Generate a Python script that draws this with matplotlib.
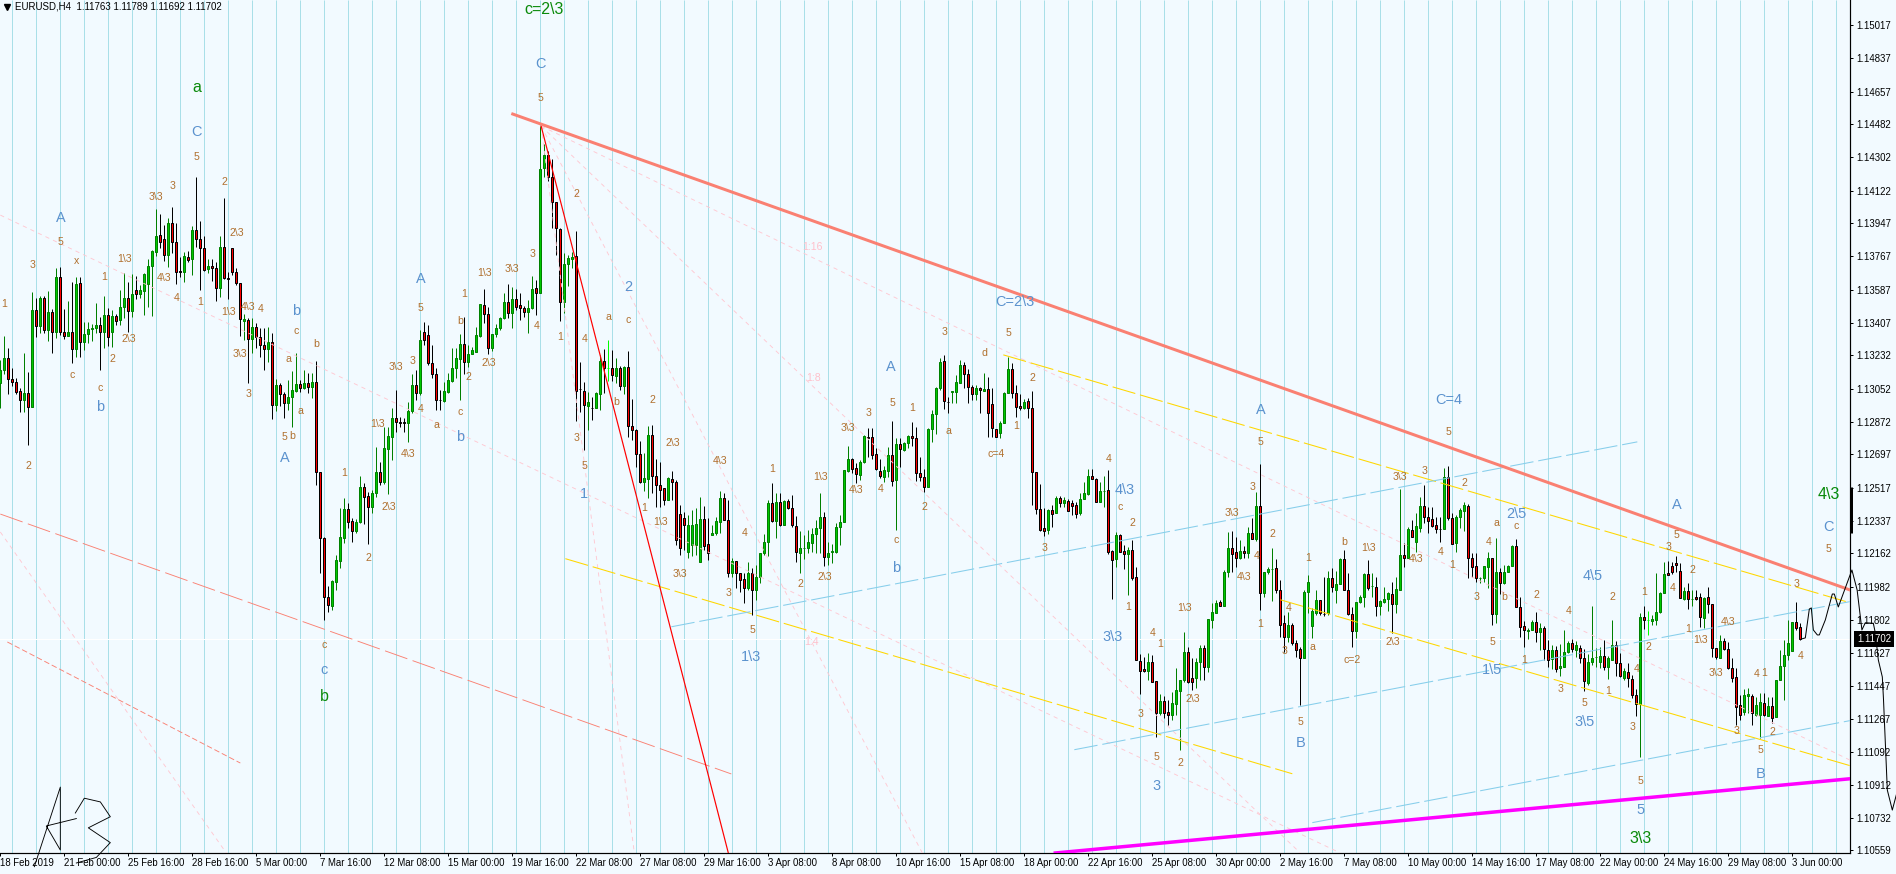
import numpy as np
import matplotlib
matplotlib.use('Agg')
import matplotlib.pyplot as plt
from matplotlib.transforms import blended_transform_factory

plt.rcParams['font.family'] = ['Liberation Sans', 'DejaVu Sans']
plt.rcParams['lines.scale_dashes'] = False
plt.rcParams['path.snap'] = True

# EURUSD H4 candles, in pips above 1.10000
highs = [
320.7,333.7,327.2,316.4,311.0,305.6,324.5,314.2,357.5,354.2,
355.3,355.3,358,348.3,370.4,371,348.3,352.6,362.9,365.6,
365.6,341.3,341.3,340.2,351.5,344,355.3,348.8,347.7,345.6,
358.5,367.7,362.9,367.2,366.1,361.2,367.7,375.3,380.1,402.3,
399.6,393.7,397.4,403.4,394.7,376.4,379.1,379.6,393.1,419.6,
395.8,387.7,375.3,375.3,373.7,387.7,408.2,368.3,381.2,370.4,
362.3,345.6,343.4,343.4,340.7,338,338,338.6,335.3,310.5,
308.3,303.4,309.9,314.8,324.5,309.9,315.3,313.7,313.7,320.2,
260.2,225.1,198.6,201.9,215.4,240.8,246.2,243.5,235.4,234.8,
258,254.3,249.4,250.5,273.7,265.6,284.5,284.5,294.8,304.5,
289.9,289.4,298,313.2,315.3,337,341.3,339.6,328.8,316.4,
304.5,308.9,313.7,327.2,327.2,334.8,344,328.8,327.8,338.6,
351,359.1,349.4,334.8,340.2,344,356.9,361.8,360.2,359.1,
356.9,349.9,353.1,366.1,364,447.1,437.4,433.6,429.3,406.1,
392,378.5,377.4,379.1,390.4,319.6,308.9,303.4,300.7,303.4,
323.4,326.7,331.5,326.1,321.8,317.5,317.5,325.6,299.7,283.5,
277,270.5,285.1,285.6,267.2,265.6,251.6,257.5,260.8,255.9,
242.4,238.6,237,239.7,240.8,246.7,241.9,235.4,231.6,235.9,
250,248.9,245.1,213.8,212.2,205.7,205.7,211.6,208.4,210,
216.5,226.7,245.1,254.3,248.9,248.9,245.1,245.6,247.8,236.5,
228.4,226.2,228.9,230,234.3,248.9,238.6,222.4,221.3,232.7,
237,261.3,274.3,267.8,265.1,266.7,280.2,284,284,273.2,
267.2,263.5,273.7,287.8,278.6,278.6,276.4,280.2,287.2,284.5,
268.3,261.8,284,293.7,306.2,321.8,323.4,300.7,304,312.6,
320.7,319.6,315.9,307.2,307.2,306.2,313.7,311.5,305.6,283.5,
287.8,303.4,322.3,319.1,307.2,302.4,299.7,300.2,304,260.2,
253.7,240.8,240.2,242.4,247.3,247.3,246.7,245.6,245.1,244,
248.9,254.8,261.8,261.8,257,254.8,258,261.3,218.1,227.8,
226.7,220.8,219.7,223.5,209,162,160.3,162.4,161.4,147.3,
140.3,139.2,137.1,141.4,154.3,147.9,173.8,165.7,159.7,159.7,
166.8,166.8,180.8,189.5,191.1,191.1,207.3,227.8,228.4,225.1,
223.5,220.3,230.5,235.4,249.4,264.5,206.2,208.9,219.2,213.2,
201.9,183,184.6,178.7,169.5,165.7,196.5,204.6,186.8,196.5,
191.1,203.5,206.8,208.4,206.8,213.8,218.1,205.7,187.3,190,
193.8,205.7,212.7,205.7,203.5,191.1,198.1,195.4,200.8,203.5,
251,221.9,230.5,234.3,238,246.7,253.2,241.3,241.3,235.9,
235.9,262.4,263.5,238,237,240.8,244,242.9,216.5,216.5,
203.5,209.4,217,213.8,224.6,208.4,210,210,220.8,224,
192.7,179.7,176,180.3,184.6,178.7,177,169.5,166.8,166.2,
167.3,174.9,168.9,170,168.9,166.8,164.6,161.9,187.8,165.1,
165.7,169.5,160.8,180.3,168.9,162.4,154.3,157,150.6,143,
184,187.8,185.1,183,205.7,195.4,211.6,212.1,211.6,214.8,
211.1,198.1,200.3,196.5,196.5,194.9,192.7,198.1,188.9,165.1,
172.2,170.6,168.4,159.7,154.3,139.8,143,143.6,140.3,138.7,
140.8,140.8,138.7,138.7,147.9,164.1,169.5,180.3,179.2,190,178.9]

lows = [
294.8,313.2,302.4,306.7,302.4,292.6,292.6,274.8,295.3,333.2,
335.3,335.3,331,324.5,332.6,334.2,332.1,333.7,319.1,322.3,
322.3,326.1,329.9,331,335.3,315.3,327.2,328.3,327.8,339.6,
339.6,343.4,335.9,344,353.7,354.2,345,349.4,344.5,376.9,
381.2,374.2,371,378.5,361.8,365.6,362.9,373.7,366.6,381.8,
358.5,368.8,367.7,363.4,352.6,354.8,364.5,353.7,366.6,361.2,
333.7,331.5,308.3,324.5,327.2,322.3,315.3,319.6,288.9,293.2,
295.9,289.4,293.7,284.5,303.4,303.4,305.1,302.9,300.2,253.2,
205.7,180.3,184.6,185.7,196.5,208.4,221.9,230,222.4,227.3,
232.7,232.1,221.3,238.1,246.7,253.2,253.7,248.4,266.7,281.8,
284.5,281.8,276.4,292.1,299.1,301.8,328.8,318,311,293.7,
293.7,298,302.9,308.9,311,299.1,313.2,317,324,325,
333.1,340.7,324,325.6,333.1,336.9,342.9,343.4,338,347.7,
342.3,344,335.3,348.3,345,356.9,419.6,417.4,392,377.4,
341.8,346.1,360.7,370.4,287.8,292.6,272.1,282.9,288.3,294.8,
293.7,302.9,309.4,309.4,308.3,304.5,302.4,279.1,277.5,262.9,
254.3,250,246.2,248.9,241.3,241.3,242.4,245.1,245.1,220.8,
215.4,218.1,213.8,214.8,215.4,211.6,218.1,212.7,226.2,226.2,
227.3,234.3,203.5,203.5,197.6,195.4,189.5,196.5,183,191.1,
200.3,215.4,214.8,233.2,224.6,231,231.6,240.2,230.5,211.6,
205.7,213.2,216.5,217,216.5,216.5,209.4,210,211.1,216.5,
220.8,233.2,260.2,259.7,254.3,255.9,265.1,268.3,267.2,261.3,
257,254.8,257.5,252.7,228.9,262.9,271.6,273.2,274.3,255.4,
255.4,249.4,252.1,276.4,280.8,304.5,294.3,292.1,297.5,297.5,
308.3,305.6,297.5,299.1,299.1,292.1,304,279.1,279.1,279.1,
278.6,286.7,302.9,300.2,289.9,293.7,294.3,289.4,242.4,237.5,
228.4,225.6,226.7,230.5,238.1,241.3,241.3,239.2,237,235.4,
237,245.6,247.8,256.4,244,244,241.3,215.9,191.6,208.9,
217,207.8,193.8,201.9,158.7,140.3,152.2,147.9,146.8,117.1,
129,127.3,123.6,126.3,129,110,146.8,146.2,142.5,143.6,
147.9,147.9,152.2,176,184,187.8,187.8,203.5,206.2,208.9,
213.2,213.8,213.8,224,222.9,185.7,192.7,205.1,190.5,194.9,
171.1,163,168.4,166.8,160.3,134.4,159.7,184.1,170.5,183,
183,182.4,183,195.4,189.5,199.7,196.5,183,165.7,170.5,
189.5,187.3,196.5,192.7,182.4,183,189.5,185.1,173.2,184.1,
196.5,208.9,213.8,225.1,217,227.8,232.7,227.3,230.5,227.3,
222.4,229.4,234.3,221.3,217,230,228.4,202.9,203.5,200.8,
200.3,200.8,197.6,177.6,178.7,194.3,199.7,206.2,209.4,187.3,
171.1,165.7,170,174.9,168.4,164.1,158.7,154.9,153.8,152.2,
150,154.9,162.4,163,160.3,157,141.9,145.2,156,154.9,
154.3,153.3,148.4,158.7,150,149.5,147.9,144.1,138.1,128.4,
106.3,175.4,172.2,177.6,177.6,184.1,194.9,205.1,205.1,206.2,
192.2,191.1,186.2,187.8,191.1,176.5,176,184.1,160.3,159.2,
159.7,164.1,153.8,146.8,123.6,126.3,129,130,123.6,128.4,
116.5,128.4,128.4,124.6,127.9,147.9,137.1,158.7,163.5,174.9,169.2]

opens = [
308.3,315.3,321.8,310.5,308.8,304,299.1,302.9,295.3,347.7,
339.1,354.2,336.9,346.7,335.9,365.6,335.9,333.7,335.9,326.7,
362.3,330.5,334.8,337.5,338,339.6,335.9,345,335.9,344.5,
342.3,349.4,354.2,347.2,358.5,356.4,358,361.8,371.5,379.1,
388.3,386.1,377.4,394.7,384.5,368.6,368.3,376.4,375.3,391,
386.1,381.2,369.9,371.5,370.4,359.6,381.8,365,381.2,368.3,
362.3,341.8,342.3,332.1,338.6,333.2,328.8,326.7,330.5,296.4,
307.2,302.4,297.5,300.7,304,307.8,305.6,308.3,306.1,308.9,
260.2,224.6,192.7,187.8,200.8,212.1,224.6,240.2,233.8,228.4,
233.2,252.1,247.3,241.3,248.9,260.2,254.8,272.6,279.1,289.4,
287.2,287,286.7,293.2,307.2,302.9,335.9,334.2,319.1,313.2,
299.1,298.6,303.4,309.4,316.4,321.3,329.4,319.6,324,325,
333.7,350.4,345.6,327.2,334.8,338,343.4,352,346.1,353.7,
350.4,348.8,346.7,348.8,359.6,356.9,424.4,431.5,419.6,406.1,
391.5,352,372.6,375.3,376.9,305.1,304,295.9,294.9,294.8,
302.4,320.2,316.4,316.4,312.1,316.4,306.7,317,285.1,282.9,
270,254.8,256.4,280.2,258,253.2,251.6,245.1,256.4,254.8,
237.5,235.4,217,220.8,220.8,211.6,234.8,221.3,226.2,227.3,
233.2,246.2,234.3,205.7,212.2,205.7,202.4,197.6,205.7,196.5,
203.5,216.5,222.4,243.5,233.8,244,231.6,244.6,240.8,231,
216.5,219.2,219.2,221.9,226.7,230,235.9,214.3,217,217,
230.5,233.2,260.8,267.2,262.4,258.6,265.6,279.1,279.1,269.9,
260.8,257.5,260.8,269.4,255.9,275.3,272.1,275.9,279.7,278.6,
259.7,257.5,252.1,283.5,291.5,305.6,320.2,298,303.4,303.4,
308.3,318,313.2,306.1,302.4,305.6,304,305.1,297,283.5,
281.3,286.7,302.9,315.9,302.9,295.9,294.8,298.6,294.8,260.2,
240.2,230,228.9,239.7,238.1,246.2,243.5,244.6,243.5,242.4,
238.1,245.6,248.4,258,256.4,244,250,250.5,217.5,213.2,
226.2,217.5,215.9,218.1,203.5,158.1,153.8,152.7,157.6,147.3,
130,136.5,130.5,128.9,134.9,141.9,147.9,163,148.9,148.9,
157.6,165.1,154.9,180.3,184,190,187.8,206.2,219.2,217,
213.8,217.5,216.5,227.3,224,241.9,194.9,206.2,207.8,208.4,
196.5,178.7,171.1,177.6,167.8,164.6,159.7,195.4,177,184.1,
191.1,183.6,184.1,203,196.5,199.7,213.2,196.5,183.5,174.3,
190,192.7,205.1,198.6,198.1,187.8,190,191.6,194.3,188.9,
196.5,215.4,213.8,228.9,222.4,230,241.9,235.9,234.8,231.6,
229.4,229.4,257.5,235.4,221.9,235.9,239.2,241.9,213.8,209.4,
203,203,208.9,213.8,183.5,206.2,200.3,206.2,209.4,220.3,
187.3,177,174.3,174.9,179.2,173.8,176,164.1,159.2,164.1,
154.3,154.9,163,167.8,164.1,165.1,159.7,146.2,157.6,160.3,
157.6,160.8,154.9,158.7,166.8,157,149,152.2,148.4,139.8,
134.9,181.9,180.3,179.7,180.3,184.6,194.9,205.7,209.4,211.1,
206.7,191.6,195.9,191.6,192.7,192.7,181.3,192.7,188.9,165.1,
159.7,168.9,164.6,154.3,149.5,134.4,130.6,139.2,139.2,129,
129,135.4,128.4,133.8,127.9,147.9,155.4,161.4,163.5,179.2,176.3]

closes = [
315.3,321.8,310.5,308.8,303.4,299.1,302.9,295.3,347.7,339.1,
354.2,336.9,346.7,335.9,365.6,335.9,333.7,335.9,326.7,361.8,
330.5,334.8,337.5,338,339.6,335.9,345,333.2,344.5,341.8,
349.4,354.2,347.2,356.4,356.4,358.5,367.2,371.5,379.6,387.7,
384.5,377.4,394.7,384.5,368.3,368.5,377,374.7,391,386.1,
381.2,369.3,371.5,370.4,359.6,381.8,365,364.5,368.3,362.3,
342.9,342.9,332.1,338.6,333.2,328.8,326.7,330.5,296.4,307.2,
302.4,297.5,300.7,304.5,307.8,305.6,308.3,306.1,308.9,260.2,
224.6,192.7,188.4,201.3,212.7,225.1,240.2,233.2,228.4,233.2,
252.1,246.7,241.3,248.9,260.2,254.8,273.2,279.7,289.4,287.2,
286.9,286.6,293.2,307.2,302.9,331.5,331.5,319.1,313.2,299.1,
299,304,309.9,316.4,321.8,329.4,319.6,324,326.1,334.2,
351,345.6,327.2,334.8,338,343.4,352,346.1,353.7,349.4,
348.8,346.7,348.8,359.1,356.9,423.9,431.5,419.6,406.1,392,
352,372.6,375.8,376.4,304,304.8,296.4,298,294.8,302.9,
320.2,316.4,316.5,312.6,316.4,306.7,317,285.1,282.9,270,
254.8,257,280.2,258,253.2,250.5,245.1,257,254.8,223.5,
219.2,231.6,231.6,231.6,232.1,234.8,220.3,216.5,227.3,233.8,
246.2,234.3,205.7,212.2,205.7,201.9,197.6,205.7,196.5,203.5,
216.5,222.4,243.5,233.8,244,231.6,244.6,240.8,231.6,217,
219.2,219.4,222.4,226.7,230,235.9,214.3,216.5,217.5,230.5,
233.2,261.3,267.2,261.8,259.1,265.6,279.7,278.6,269.4,261.8,
258,261.3,269.4,255.4,275.3,272.6,275.9,279.7,278.6,259.7,
257.5,252.1,283.5,291.5,305.6,319.6,298.6,297.9,304,308.9,
318,313.2,306.1,302.4,305.6,304.5,305.1,292.1,284,279.1,
286.7,302.9,315.9,302.9,295.3,294.8,298,294.8,260.2,240.2,
228.9,228.4,239.7,237.5,246.2,243.5,245.1,239.2,241.9,237.5,
245.6,248.9,258,256.4,244,250,250.1,217,212.7,226.2,
217,215.9,218.1,203,158.7,152.7,152.7,157.6,146.8,130,
136.5,130,128.9,135.4,142.5,147.9,163,146.8,146.8,157.6,
165.1,154.9,180.8,184.6,189.5,187.8,206.2,219.2,215.9,213.8,
217.5,216.5,227.3,224,241.9,194.9,206.2,207.8,207.9,196.5,
177.6,171.1,177.6,167.8,164.1,159.7,195.4,200.8,185.1,191.1,
184.1,183.5,203,198.1,199.7,213.2,196.5,183.5,174.3,190,
192.7,205.1,197.6,198.7,187.8,190.5,191.6,194.9,188.9,197,
215.4,213.8,229.4,225.1,231,241.9,235.9,233.8,231,229.4,
229.3,257.5,235.4,221.3,235.9,239.7,242.4,213.8,208.9,203,
203.1,209.4,213.8,183.5,206.2,200.3,206.2,209.4,220.3,187.3,
176.5,174.9,174.9,179.2,173.8,176,164.6,158.7,164.1,153.8,
155.4,163,167.8,164.6,166.8,159.7,147.3,157.6,159.7,160.4,
160.8,154.9,159.7,166.8,157,150,152.7,149,139.8,134.9,
181.9,180.3,180.4,180.8,184.6,194.9,205.1,204.6,206.2,210,
192.2,195.9,191.6,191.7,191.6,181.9,192.2,188.9,165.1,160.3,
168.9,164.6,154.3,149,133.3,129,139.8,140.3,130,134.4,
136,129,133.8,127.3,147.9,155.4,161.4,167.8,179.2,176,170.2]

lime_bars = [152, 412]

y_ticks = [1.15017,1.14837,1.14657,1.14482,1.14302,1.14122,1.13947,1.13767,1.13587,
           1.13407,1.13232,1.13052,1.12872,1.12697,1.12517,1.12337,1.12162,1.11982,
           1.11802,1.11627,1.11447,1.11267,1.11092,1.10912,1.10732,1.10559]
x_labels = ['18 Feb 2019','21 Feb 00:00','25 Feb 16:00','28 Feb 16:00','5 Mar 00:00','7 Mar 16:00',
            '12 Mar 08:00','15 Mar 00:00','19 Mar 16:00','22 Mar 08:00','27 Mar 08:00','29 Mar 16:00',
            '3 Apr 08:00','8 Apr 08:00','10 Apr 16:00','15 Apr 08:00','18 Apr 00:00','22 Apr 16:00',
            '25 Apr 08:00','30 Apr 00:00','2 May 16:00','7 May 08:00','10 May 00:00','14 May 16:00',
            '17 May 08:00','22 May 00:00','24 May 16:00','29 May 08:00','3 Jun 00:00']
last_price = 1.11702
title_text = 'EURUSD,H4  1.11763 1.11789 1.11692 1.11702'

# trend lines: (bar, pips) end points
salmon_thick = [(128.1,453.6),(462.4,196.5)]
red_line = [(135.2,447.1),(182,54.4)]
fan_lines = [[(135.2,447.1),(462.4,104.6)],[(135.2,447.1),(325,54.4)],
             [(135.2,447.1),(230.5,54.4)],[(135.2,447.1),(158.5,54.4)],
             [(0,399),(335,54.4)],[(0,227.8),(56.5,54.4)]]
salmon_dashed = [(0,237.5),(182.75,97.1)]
salmon_dotted = [(1.75,168.4),(60,103)]
yellow_lines = [[(250.75,323.5),(462.4,189.6)],[(141.25,213.4),(323,97.2)],[(320,191.2),(462.4,101.6)]]
sky_lines = [[(167.75,176.6),(409.25,276.5)],[(268.5,110.2),(462.4,190.2)],[(328,70.8),(462.4,125.9)]]
magenta_line = [(263.75,54.4),(462.4,94.5)]
forecast = [(450.25,170),(451.25,170.6),(452.25,186.2),(452.75,186.8),(453.25,174.9),(454.25,172.2),
            (454.75,172.2),(456.25,180.3),(458,194.3),(458.5,194.3),(459.5,187.3),(462.9,207.3),
            (464.2,196.5),(465.4,174.9),(466.25,178.8),(468.25,178.5),(468.75,173.3),(469.5,158.7),
            (470.5,149.5),(470.8,137.1),(471.75,88.4),(473,77.6),(474,85.8)]
thick_bar = [(462.6,252.1),(462.6,227.3)]
signature = [[(8.5,47),(15,90),(15,56),(11.5,69),(19,73)],
             [(18.75,76),(21,84),(25,82),(27.5,74),(22,68),(27.5,60),(24,52),(19,49)]]

small_labels = [('5',49,430.4),('3',43,414.7),(r'3\3',39,408.8),('2',56,416.9),(r'2\3',59,389.3),('3',8,372.1),
('5',15,384.5),('x',19,374.2),(r'1\3',31,375.3),('1',26,365.6),(r'4\3',41,365),('4',44,354.2),('1',50,352),
(r'1\3',57,346.7),(r'4\3',62,349.4),('4',65,348.3),('1',1,351),(r'2\3',32,332.1),('2',28,321.3),(r'3\3',60,324),
('c',74,336.4),('b',79,329.4),('a',72,321.3),('c',18,312.6),('c',25,305.6),('2',7,263.4),('3',62,302.4),
('a',75,293.2),('5',71,279.1),('b',73,279.7),('1',86,259.7),('2',92,213.8),(r'2\3',97,241.3),(r'1\3',94.25,286.2),
(r'3\3',99,317),('3',103,320.2),('4',105,294.3),(r'4\3',102,270),('a',109,285.6),('5',135,462.3),('2',144,410.4),
('3',133,378),(r'3\3',128,369.9),(r'1\3',121,367.7),('1',116,356.4),('5',105,348.8),('b',115,341.8),('2',117,311.5),
('c',115,292.6),(r'2\3',122,319.1),('4',134,339),('1',140,333.2),('4',146,332.1),('a',152,344),('c',157,342.3),
('b',154,298),('3',144,278.6),('5',146,263.4),('2',163,299.1),(r'2\3',168,276),(r'4\3',180,266.2),('1',161,240.8),
(r'1\3',165,233.2),(r'3\3',170,205.2),('5',188,175),('1',193,261.9),('4',186,227.3),('3',182,195),(r'1\3',205,257.5),
('2',200,199.8),(r'2\3',206,203.5),(r'3\3',212,284),('3',217,292.1),(r'4\3',214,250.5),('5',223,297.6),('4',220,251),
('1',228,294.8),('2',231,241.3),('c',224,223.5),('3',236,335.9),('a',237,282.4),('d',246,324.5),('5',252,335.3),
('c=4',249,270),('1',254,285.1),('2',258,311),('3',261,219),('4',277,267.2),('c',280,241.3),
('2',283,232.7),('1',282,187.3),(r'3\3',308,238),('3',313,252.1),('5',315,276.4),('2',318,226.7),('4',314,214.8),
(r'4\3',311,203.5),('1',327,213.8),('4',322,186.8),(r'1\3',296,186.8),('4',288,173.2),('1',290,167.3),('3',285,129.5),
('5',289,106.3),('2',295,103),(r'2\3',298,137.6),('1',315,178),('3',321,163.5),('a',328,165.8),('5',325,125.2),
('c=2',338,158.8),(r'2\3',348,168.4),('b',336,222.4),(r'1\3',342,219.2),(r'3\3',350,257.5),('3',356,260.8),
('5',362,281.9),('2',366,254.3),(r'4\3',354,213.2),('4',360,217),('1',363,210),('a',374,232.7),('4',372,222.4),
('c',379,231),('b',376,192.7),('3',369,192.7),('2',384,193.8),('4',392,185),('5',373,168.4),('1',381,158.8),
('3',390,143),('5',396,135.4),('1',402,142),('2',403,192.7),('2',412,165.7),('4',409,154),('3',408,122.5),
('5',410,93.3),('1',422,175.4),(r'1\3',425,169.5),(r'4\3',432,179),(r'3\3',429,151.6),('4',439,151),('1',441,151.6),
('3',434,120.3),('5',440,110),('2',443,119.8),('4',450,160.8),('5',419,226.2),('3',417,219.8),('2',423,207.3),
('4',418,197.6),('1',411,195.4),('3',449,199.8),('5',457,218.6),('c',81,166.8)]
blue_labels = [('A',15,397.4),('C',49,443.9),('A',105,364.5),('b',74,347.2),('b',25,295.3),('A',71,267.8),('2',157,360.2),
('b',115,279.1),('1',146,248.3),('A',222.5,317),('b',224,208.4),(r'C=2\3',253.75,352),('C',135,480.6),(r'4\3',281,250.5),
('A',315,293.7),('C=4',362,299.1),(r'2\5',379,237.5),(r'4\5',398,204),(r'1\5',373,153.3),(r'3\5',396,125.2),('B',325,113.8),
('3',289,90.6),(r'1\3',187.75,160.3),(r'3\3',278,171.1),('A',419,242.4),('C',457,230.5),('B',440,97.1),('5',410,77.6),('c',81,153.3)]
green_labels = [('a',49,468.2),(r'c=2\3',136,509.8),('b',81,138.8),(r'4\3',457,247.8),(r'3\3',410,62.5)]
pale_labels = [('1:16',203,381.8),('1:8',203.25,311),('1:4',202.75,168.4)]

def price(pips):
    return 1.10 + np.asarray(pips, dtype=float) / 1e4

def xy(pts):
    a = np.array(pts)
    return a[:, 0], price(a[:, 1])

W, H = 1896, 874
BG = '#F2FAFF'
PX = 72 / 100
fig = plt.figure(figsize=(W / 100, H / 100), dpi=100, facecolor=BG)
ax = fig.add_axes([0, (H - 853) / H, 1850 / W, 853 / H], facecolor=BG)
ax.set_xlim(-0.0825, 462.42)
ax.set_ylim(price(54.4), price(515.2))

n = len(closes)
assert len(highs) == n and len(lows) == n and len(opens) == n, (len(highs), len(lows), len(opens), n)
bars = np.arange(n)
o, h, l, c = price(opens), price(highs), price(lows), price(closes)

ax.vlines(np.arange(3, 463, 6), price(54.4), price(515.2), color='#A9DFE8', lw=1 * PX, zorder=1)
ax.axhline(last_price, color='white', lw=1 * PX, zorder=2)

up = c >= o
wick_col = np.where(up, '#008000', 'black').astype(object)
body_face = np.where(up, '#00C800', '#FF0000').astype(object)
body_edge = np.where(up, '#008000', 'black').astype(object)
for i in lime_bars:
    wick_col[i] = '#00FF00'
    body_face[i] = '#00FF00'
    body_edge[i] = '#00FF00'
ax.vlines(bars, l, h, colors=list(wick_col), lw=1 * PX, zorder=3)
ax.bar(bars, np.abs(c - o), bottom=np.minimum(o, c), width=0.5,
       color=list(body_face), edgecolor=list(body_edge), linewidth=1 * PX, zorder=3.5)

for pts in fan_lines:
    ax.plot(*xy(pts), color='#FFC8D2', lw=0.9 * PX, dashes=(3, 3), zorder=4)
ax.plot(*xy(salmon_dashed), color='#FA8072', lw=0.9 * PX, dashes=(17, 4), zorder=4)
ax.plot(*xy(salmon_dotted), color='#FA8072', lw=0.9 * PX, dashes=(4, 2), zorder=4)
for pts in yellow_lines:
    ax.plot(*xy(pts), color='#FFD700', lw=1.05 * PX, dashes=(17, 3.5), zorder=4.2)
for pts in sky_lines:
    ax.plot(*xy(pts), color='#87CEEB', lw=1.05 * PX, dashes=(17, 3.5), zorder=4.2)
ax.plot(*xy(red_line), color='#FF0000', lw=1.2 * PX, zorder=4.4)
ax.plot(*xy(salmon_thick), color='#FA8072', lw=3 * PX, zorder=4.5)
ax.plot(*xy(magenta_line), color='#FF00FF', lw=3.5 * PX, zorder=4.5)
ax.plot(*xy(forecast), color='black', lw=1 * PX, zorder=6, clip_on=False)
ax.plot(*xy(thick_bar), color='black', lw=3 * PX, zorder=6, clip_on=False, solid_capstyle='butt')
for stroke in signature:
    ax.plot(*xy(stroke), color='black', lw=0.9 * PX, zorder=6, clip_on=False)

for t, b, p in small_labels:
    ax.text(b, price(p), t, color='#B0702E', fontsize=10.5 * PX, ha='center', va='center', zorder=5)
for t, b, p in blue_labels:
    ax.text(b, price(p), t, color='#5B92CE', fontsize=14.5 * PX, ha='center', va='center', zorder=5)
for t, b, p in green_labels:
    ax.text(b, price(p), t, color='#0A8A0A', fontsize=16 * PX, ha='center', va='center', zorder=5)
for t, b, p in pale_labels:
    ax.text(b, price(p), t, color='#FFC0CB', fontsize=10.5 * PX, ha='center', va='center', zorder=5)

ax.set_yticks(y_ticks)
ax.set_yticklabels(['%.5f' % v for v in y_ticks])
ax.yaxis.tick_right()
ax.set_xticks(np.arange(len(x_labels)) * 16)
ax.set_xticklabels(x_labels, ha='left')
ax.tick_params(axis='y', length=3 * PX, width=1 * PX, pad=3 * PX, labelsize=9.6 * PX, colors='black')
ax.tick_params(axis='x', length=3 * PX, width=1 * PX, pad=2 * PX, labelsize=9.6 * PX, colors='black')
for s in ('left', 'top'):
    ax.spines[s].set_visible(False)
for s in ('right', 'bottom'):
    ax.spines[s].set_linewidth(1.2 * PX)

trans = blended_transform_factory(ax.transAxes, ax.transData)
ax.text(1857 / 1850, last_price, '%.5f' % last_price, transform=trans, color='white', fontsize=9.6 * PX,
        ha='left', va='center', zorder=7, clip_on=False,
        bbox=dict(boxstyle='square,pad=0.3', fc='black', ec='black', lw=0))
ax.text(15 / 1850, 1 - 6.5 / 853, title_text, transform=ax.transAxes, color='black', fontsize=9.8 * PX,
        ha='left', va='center', zorder=7)
ax.plot([6.5 / 1850], [1 - 6.5 / 853], marker='v', ms=6 * PX, color='black', transform=ax.transAxes,
        clip_on=False, zorder=7)

fig.savefig('out.png', dpi=100, facecolor=BG)
